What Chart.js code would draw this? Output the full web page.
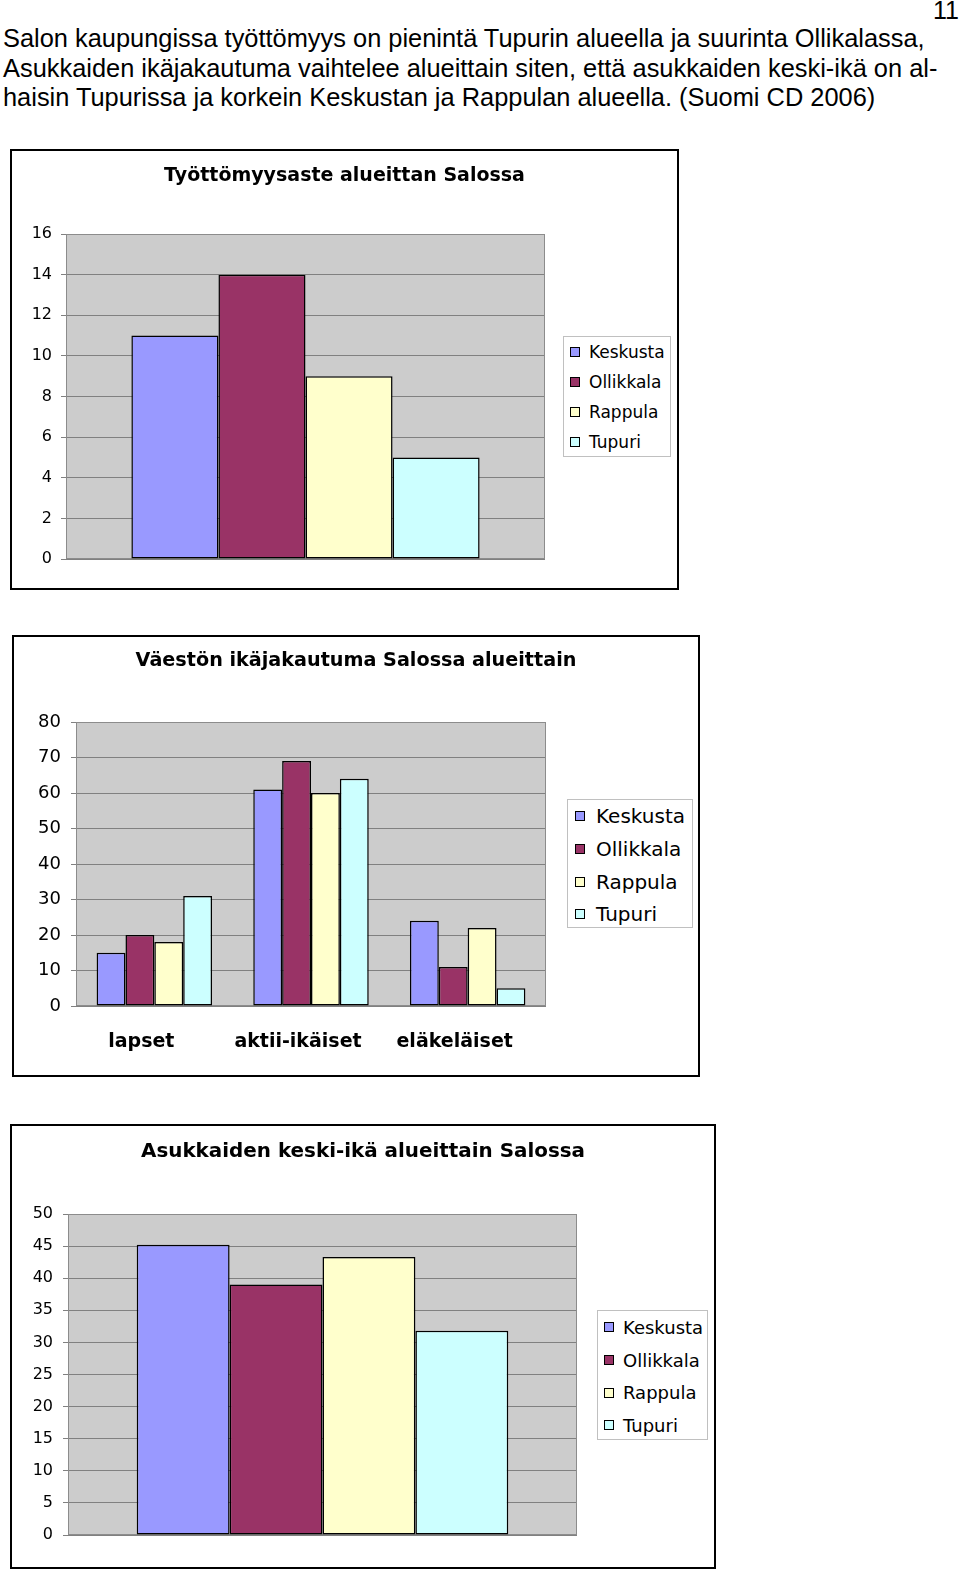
<!DOCTYPE html>
<html>
<head>
<meta charset="utf-8">
<script src="https://cdn.jsdelivr.net/npm/chart.js@4.4.1/dist/chart.umd.min.js"></script>
<style>
    body { margin: 0; background: #fff; width: 960px; height: 1574px; position: relative; overflow: hidden; }
    .page-text { position: absolute; left: 3px; top: 24px; font-family: "Liberation Sans", Arial, sans-serif; font-size: 25.4px; line-height: 29.6px; color: #000; white-space: nowrap; }
    .page-no { position: absolute; right: 1px; top: -4px; font-family: "Liberation Sans", Arial, sans-serif; font-size: 25px; }
    .chart-box { position: absolute; border: 2px solid #000; box-sizing: border-box; background: #fff; }
    .chart-box canvas { position: absolute; left: 0; top: 0; }
    .legend { position: absolute; border: 1px solid #c0c0c0; box-sizing: border-box; background: #fff; font-family: "DejaVu Sans", sans-serif; color: #000; }
    .legend-item { display: flex; align-items: center; white-space: nowrap; }
    .legend-swatch { width: 8px; height: 8px; border: 1px solid #000; flex: none; }
</style>
</head>
<body>

<div class="page-no">11</div>
<div class="page-text">
    <div>Salon kaupungissa työttömyys on pienintä Tupurin alueella ja suurinta Ollikalassa,</div>
    <div>Asukkaiden ikäjakautuma vaihtelee alueittain siten, että asukkaiden keski-ikä on al-</div>
    <div>haisin Tupurissa ja korkein Keskustan ja Rappulan alueella. (Suomi CD 2006)</div>
</div>

<div class="chart-box" style="left:10px; top:149px; width:669px; height:441px;">
    <canvas id="chartUnemployment" width="665" height="437"></canvas>
    <div class="legend" id="legendUnemployment" style="left:551px; top:185px; width:108px; height:121px;"></div>
</div>

<div class="chart-box" style="left:12px; top:635px; width:688px; height:442px;">
    <canvas id="chartAgeGroups" width="684" height="438"></canvas>
    <div class="legend" id="legendAgeGroups" style="left:553px; top:162px; width:126px; height:129px;"></div>
</div>

<div class="chart-box" style="left:10px; top:1124px; width:706px; height:445px;">
    <canvas id="chartMeanAge" width="702" height="441"></canvas>
    <div class="legend" id="legendMeanAge" style="left:585px; top:184px; width:111px; height:130px;"></div>
</div>

<script>
// Areas shown in every chart
const regions = ['Keskusta', 'Ollikkala', 'Rappula', 'Tupuri'];
const regionColors = ['#9999ff', '#993366', '#ffffcc', '#ccffff'];

// Työttömyysaste (%) per area
const unemployment = [11, 14, 9, 5];

// Age groups (%) per area
const ageGroups = ['lapset', 'aktii-ikäiset', 'eläkeläiset'];
const ageKeskusta = [15, 61, 24];
const ageOllikkala = [20, 69, 11];
const ageRappula = [18, 60, 22];
const ageTupuri = [31, 64, 5];

// Mean age per area
const meanAge = [45.2, 39, 43.3, 31.8];

Chart.defaults.font.family = '"DejaVu Sans", sans-serif';
Chart.defaults.color = '#000';

// Grey plot area with a thin frame, like the old office charts
const plotBackground = {
    id: 'plotBackground',
    beforeDraw(chart) {
        const { ctx, chartArea: a } = chart;
        ctx.save();
        ctx.fillStyle = '#cccccc';
        ctx.fillRect(a.left, a.top, a.right - a.left, a.bottom - a.top);
        ctx.restore();
    },
    beforeDatasetsDraw(chart) {
        const { ctx, chartArea: a } = chart;
        ctx.save();
        ctx.strokeStyle = '#8c8c8c';
        ctx.lineWidth = 1;
        ctx.strokeRect(a.left + 0.5, a.top + 0.5, a.right - a.left - 1, a.bottom - a.top - 1);
        ctx.restore();
    }
};

// Title centred on the whole canvas (the built-in one centres on the padded box)
const boxTitle = {
    id: 'boxTitle',
    afterDraw(chart, args, opts) {
        const { ctx, width } = chart;
        ctx.save();
        ctx.font = `bold ${opts.size}px "DejaVu Sans", sans-serif`;
        ctx.fillStyle = '#000';
        ctx.textAlign = 'center';
        ctx.textBaseline = 'middle';
        ctx.fillText(opts.text, width / 2, opts.y);
        ctx.restore();
    }
};

function renderLegend(id, fontSize, rowHeight, swatchLeft, gap) {
    const legend = document.getElementById(id);
    regions.forEach((name, i) => {
        const row = document.createElement('div');
        row.className = 'legend-item';
        row.style.height = rowHeight + 'px';
        row.style.paddingLeft = swatchLeft + 'px';
        row.style.fontSize = fontSize + 'px';
        row.innerHTML = `<span class="legend-swatch" style="background:${regionColors[i]}"></span><span style="margin-left:${gap}px">${name}</span>`;
        legend.appendChild(row);
    });
}

function buildChart(canvasId, cfg) {
    const ctx = document.getElementById(canvasId).getContext('2d');
    return new Chart(ctx, {
        type: 'bar',
        data: {
            labels: cfg.labels,
            datasets: cfg.datasets.map((values, i) => ({
                label: regions[i],
                data: values,
                backgroundColor: regionColors[i]
            }))
        },
        plugins: [plotBackground, boxTitle],
        options: {
            responsive: false,
            animation: false,
            devicePixelRatio: 1,
            layout: { padding: cfg.padding },
            datasets: {
                bar: {
                    categoryPercentage: cfg.groupWidth,
                    barPercentage: 1,
                    borderColor: '#000',
                    borderWidth: 1.5,
                    borderSkipped: false
                }
            },
            plugins: {
                legend: { display: false },
                tooltip: { enabled: false },
                title: { display: false },
                boxTitle: { text: cfg.title, size: cfg.titleSize, y: cfg.titleY }
            },
            scales: {
                x: cfg.xAxis,
                y: {
                    min: 0,
                    max: cfg.yMax,
                    afterFit: s => { s.width = cfg.yWidth; },
                    ticks: { stepSize: cfg.yStep, padding: cfg.yPad, font: { size: cfg.tickSize } },
                    grid: { color: '#808080', lineWidth: 1, tickLength: 5 },
                    border: { display: false }
                }
            }
        }
    });
}

// Chart 1: unemployment
buildChart('chartUnemployment', {
    labels: [''],
    datasets: unemployment.map(v => [v]),
    title: 'Työttömyysaste alueittan Salossa',
    titleSize: 19, titleY: 25,
    padding: { top: 83, left: 0, right: 132, bottom: 29 },
    groupWidth: 0.727,
    xAxis: { display: false },
    yMax: 16, yStep: 2, yWidth: 54, yPad: 9, tickSize: 16
});
renderLegend('legendUnemployment', 17, 30, 6, 9);

// Chart 2: age groups
buildChart('chartAgeGroups', {
    labels: ageGroups,
    datasets: [ageKeskusta, ageOllikkala, ageRappula, ageTupuri],
    title: 'Väestön ikäjakautuma Salossa alueittain',
    titleSize: 19.2, titleY: 23.6,
    padding: { top: 85, left: 0, right: 152, bottom: 0 },
    groupWidth: 0.737,
    xAxis: {
        afterFit: s => { s.height = 69; },
        grid: { display: false },
        border: { display: false },
        ticks: { padding: 17, labelOffset: -13, font: { size: 19, weight: 'bold' } }
    },
    yMax: 80, yStep: 10, yWidth: 62, yPad: 10, tickSize: 18
});
renderLegend('legendAgeGroups', 20, 32.7, 7, 11);

// Chart 3: mean age
buildChart('chartMeanAge', {
    labels: [''],
    datasets: meanAge.map(v => [v]),
    title: 'Asukkaiden keski-ikä alueittain Salossa',
    titleSize: 19.9, titleY: 25.5,
    padding: { top: 88, left: 0, right: 137, bottom: 32 },
    groupWidth: 0.73,
    xAxis: { display: false },
    yMax: 50, yStep: 5, yWidth: 56, yPad: 10, tickSize: 16
});
renderLegend('legendMeanAge', 18, 32.7, 6, 9);
</script>
</body>
</html>
